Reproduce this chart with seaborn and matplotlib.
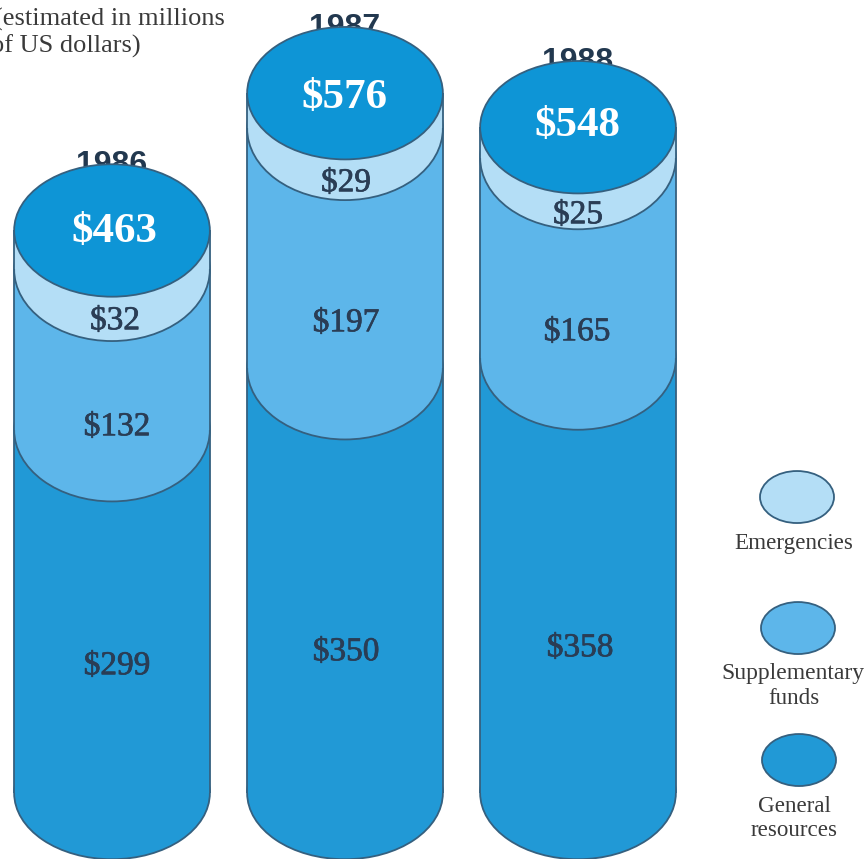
import matplotlib
matplotlib.use("Agg")
import matplotlib.pyplot as plt
import matplotlib.patheffects as pe
import seaborn as sns
from matplotlib.patches import Ellipse

years = ["1986", "1987", "1988"]
general = [299, 350, 358]
supplementary = [132, 197, 165]
emergencies = [32, 29, 25]
totals = [463, 576, 548]

col_general = "#2199d6"
col_supp = "#5db6ea"
col_emerg = "#b4def6"
col_total = "#0e95d6"
col_edge = "#35607f"
col_text = "#2a3d55"

W, H = 868, 859

sns.set_theme(style="white")
plt.rcParams["font.family"] = ["Liberation Serif", "DejaVu Sans"]

fig = plt.figure(figsize=(W / 100, H / 100), dpi=100)
ax = fig.add_axes([0, 0, 1, 1])

bar_w = 0.84
ell_h = 109
arc_h = 118  # the bands' front arcs hang a bit deeper than the lid
thick = [pe.withStroke(linewidth=0.5, foreground=col_text)]


def px_text(x, y, s, **kw):
    fig.text(x / W, 1 - (y + 3) / H, s, ha=kw.pop("ha", "center"), va=kw.pop("va", "center"), **kw)


def disc(i, y, color, z, h):
    ax.add_patch(Ellipse((i, y), bar_w, h, facecolor=color, edgecolor=col_edge, lw=1.3, zorder=z))


# stack the cylinders from the bottom, each band hides the back of the arc below it
bottoms = [0, 0, 0]
for k, (vals, color) in enumerate([(general, col_general), (supplementary, col_supp), (emergencies, col_emerg)]):
    z = 2 + 2 * k
    for i in range(3):
        disc(i, bottoms[i], color, z, ell_h if k == 0 else arc_h)
    sns.barplot(x=years, y=vals, bottom=bottoms, color=color, saturation=1, width=bar_w,
                linewidth=0, errorbar=None, zorder=z + 1, ax=ax)
    bottoms = [b + v for b, v in zip(bottoms, vals)]

for i in range(3):
    ax.vlines([i - bar_w / 2, i + bar_w / 2], 0, totals[i], color=col_edge, lw=1.3, zorder=9)
    # year sits behind the lid, only its top half shows
    ax.text(i, totals[i] + ell_h / 2 - 1, years[i], ha="center", va="center", fontsize=23,
            fontweight="bold", family="Liberation Sans", color="#22384f", zorder=9)
    disc(i, totals[i], col_total, 10, ell_h)

ax.set_xlim(-112 / 233, (W - 112) / 233)
ax.set_ylim(-54.3, 652.7)
ax.set_axis_off()

# value labels
total_xy = [(114, 229), (344, 95), (577, 123)]
emerg_xy = [(115, 318), (346, 180), (578, 212)]
supp_xy = [(117, 424), (346, 320), (577, 329)]
gen_xy = [(117, 663), (346, 649), (580, 645)]
for i in range(3):
    px_text(*total_xy[i], f"${totals[i]}", fontsize=31, fontweight="bold", color="white", zorder=20)
    for xy, v in [(emerg_xy[i], emergencies[i]), (supp_xy[i], supplementary[i]), (gen_xy[i], general[i])]:
        px_text(*xy, f"${v}", fontsize=24, color=col_text, zorder=20, path_effects=thick)

px_text(225, 16, "(estimated in millions", ha="right", fontsize=19, color="#3a3a3a")
px_text(-9, 43, "of US dollars)", ha="left", fontsize=19, color="#3a3a3a")

# legend
leg_colors = [col_emerg, col_supp, col_general]
leg_y = [497, 628, 760]
leg_x = [797, 798, 799]
for c, lx, ly in zip(leg_colors, leg_x, leg_y):
    ax.add_patch(Ellipse(((lx - 112) / 233, (793 - ly) / 1.215), 74 / 233, 52 / 1.215,
                         facecolor=c, edgecolor=col_edge, lw=1.3, zorder=5))

px_text(794, 540, "Emergencies", fontsize=16.6, color="#3a3a3a")
px_text(793, 671, "Supplementary", fontsize=17, color="#3a3a3a")
px_text(794, 695, "funds", fontsize=16.6, color="#3a3a3a")
px_text(794, 803, "General", fontsize=16.6, color="#3a3a3a")
px_text(794, 827, "resources", fontsize=16.6, color="#3a3a3a")

fig.savefig("out.png", dpi=100)
